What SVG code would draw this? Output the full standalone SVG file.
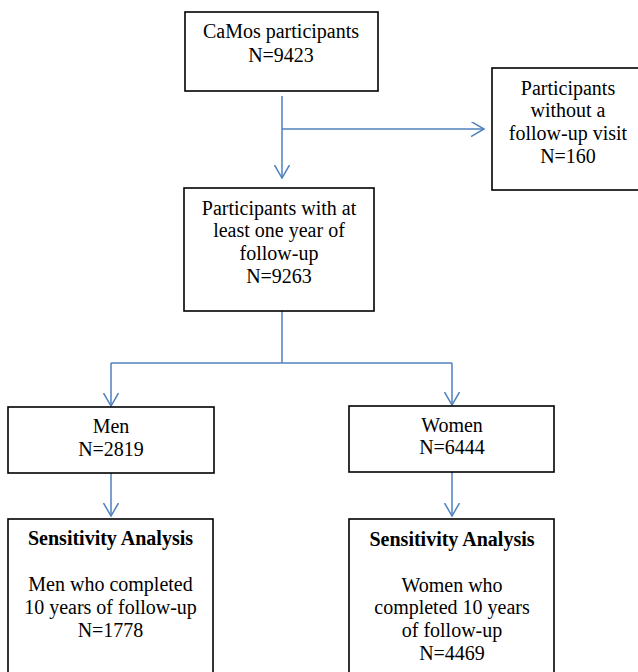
<svg xmlns="http://www.w3.org/2000/svg" width="638" height="672" viewBox="0 0 638 672">
<style>
.box{fill:#fff;stroke:#000;stroke-width:1.6}
.t{font-family:"Liberation Serif","Times New Roman",serif;font-size:20px;fill:#000;text-anchor:middle}
.b{font-weight:bold}
.c{fill:none;stroke:#4F81BD;stroke-width:1.5}
</style>
<defs>
<marker id="arr" markerWidth="16" markerHeight="16" refX="13" refY="7.5" orient="auto" markerUnits="userSpaceOnUse">
<path d="M0,0 L13,7.5 L0,15" fill="none" stroke="#4F81BD" stroke-width="1.5"/>
</marker>
</defs>
<rect width="638" height="672" fill="#fff"/>
<g id="connectors">
<line class="c" x1="282" y1="96" x2="282" y2="178" marker-end="url(#arr)"/>
<line class="c" x1="282" y1="129" x2="484" y2="129" marker-end="url(#arr)"/>
<line class="c" x1="282" y1="311" x2="282" y2="363"/>
<line class="c" x1="111" y1="363" x2="452" y2="363"/>
<line class="c" x1="111" y1="363" x2="111" y2="406" marker-end="url(#arr)"/>
<line class="c" x1="452" y1="363" x2="452" y2="405" marker-end="url(#arr)"/>
<line class="c" x1="111" y1="473" x2="111" y2="516" marker-end="url(#arr)"/>
<line class="c" x1="452" y1="472" x2="452" y2="516" marker-end="url(#arr)"/>
</g>
<g id="camos">
<rect class="box" x="185" y="12" width="193" height="79"/>
<text class="t" x="281" y="38">CaMos participants</text>
<text class="t" x="281" y="62">N=9423</text>
</g>
<g id="without">
<rect class="box" x="492" y="68" width="153" height="122"/>
<text class="t" x="568" y="95">Participants</text>
<text class="t" x="568" y="117">without a</text>
<text class="t" x="568" y="140">follow-up visit</text>
<text class="t" x="568" y="163">N=160</text>
</g>
<g id="followup">
<rect class="box" x="184" y="188" width="190" height="123"/>
<text class="t" x="279" y="215">Participants with at</text>
<text class="t" x="279" y="237">least one year of</text>
<text class="t" x="279" y="260">follow-up</text>
<text class="t" x="279" y="283">N=9263</text>
</g>
<g id="men">
<rect class="box" x="8" y="407" width="206" height="66"/>
<text class="t" x="111" y="433">Men</text>
<text class="t" x="111" y="456">N=2819</text>
</g>
<g id="women">
<rect class="box" x="349" y="406" width="205" height="66"/>
<text class="t" x="452" y="432">Women</text>
<text class="t" x="452" y="454">N=6444</text>
</g>
<g id="men-sa">
<rect class="box" x="8" y="519" width="205" height="170"/>
<text class="t b" x="110.5" y="545">Sensitivity Analysis</text>
<text class="t" x="110.5" y="591">Men who completed</text>
<text class="t" x="110.5" y="614">10 years of follow-up</text>
<text class="t" x="110.5" y="637">N=1778</text>
</g>
<g id="women-sa">
<rect class="box" x="349" y="519" width="205" height="170"/>
<text class="t b" x="452" y="546">Sensitivity Analysis</text>
<text class="t" x="452" y="592">Women who</text>
<text class="t" x="452" y="614">completed 10 years</text>
<text class="t" x="452" y="637">of follow-up</text>
<text class="t" x="452" y="660">N=4469</text>
</g>
</svg>
